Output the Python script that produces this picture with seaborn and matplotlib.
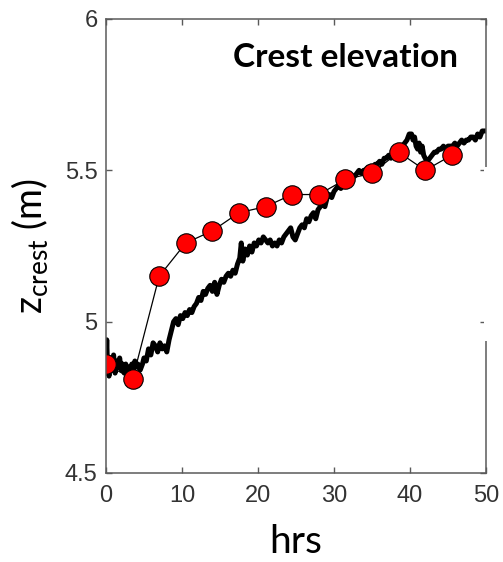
import numpy as np
import pandas as pd
import matplotlib
matplotlib.use("Agg")
import matplotlib.pyplot as plt
import seaborn as sns
from matplotlib.patches import Rectangle

# Modelled crest elevation (noisy black trace)
model_hrs = [0.0, 0.1, 0.2, 0.4, 0.6, 0.8, 1.0, 1.2, 1.4, 1.6, 1.8, 2.0, 2.2, 2.4, 2.6, 2.8,
             3.0, 3.2, 3.4, 3.6, 3.8, 4.0, 4.2, 4.5, 4.8, 5.0, 5.3, 5.6, 5.9, 6.2, 6.5, 6.8,
             7.1, 7.4, 7.7, 8.0, 8.3, 8.6, 8.9, 9.2, 9.5, 9.8, 10.1, 10.4, 10.7, 11.0, 11.3,
             11.6, 11.9, 12.2, 12.5, 12.8, 13.1, 13.4, 13.7, 14.0, 14.3, 14.6, 14.9, 15.2,
             15.5, 15.8, 16.1, 16.4, 16.7, 17.0, 17.3, 17.6, 17.8, 18.0, 18.3, 18.6, 18.9,
             19.2, 19.5, 19.8, 20.1, 20.4, 20.7, 21.0, 21.3, 21.6, 21.9, 22.2, 22.5, 22.8,
             23.1, 23.4, 23.7, 24.0, 24.3, 24.6, 24.9, 25.2, 25.5, 25.8, 26.1, 26.4, 26.7,
             27.0, 27.3, 27.6, 27.9, 28.2, 28.5, 28.8, 29.1, 29.4, 29.7, 30.0, 30.3, 30.6,
             30.9, 31.2, 31.5, 31.8, 32.1, 32.4, 32.7, 33.0, 33.3, 33.6, 33.9, 34.2, 34.5,
             34.8, 35.1, 35.4, 35.7, 36.0, 36.3, 36.6, 36.9, 37.2, 37.5, 37.8, 38.1, 38.4,
             38.7, 39.0, 39.3, 39.6, 39.9, 40.2, 40.4, 40.6, 40.8, 41.0, 41.2, 41.4, 41.6,
             41.8, 42.0, 42.3, 42.6, 42.9, 43.2, 43.5, 43.8, 44.1, 44.4, 44.7, 45.0, 45.3,
             45.6, 45.9, 46.2, 46.5, 46.8, 47.1, 47.4, 47.7, 48.0, 48.3, 48.6, 48.9, 49.2,
             49.5, 49.8, 50.0]
model_z = [4.86, 4.94, 4.85, 4.82, 4.88, 4.84, 4.89, 4.83, 4.87, 4.85, 4.88, 4.84, 4.86, 4.83,
           4.86, 4.84, 4.85, 4.83, 4.86, 4.84, 4.87, 4.85, 4.86, 4.84, 4.86, 4.88, 4.87, 4.91,
           4.89, 4.93, 4.92, 4.90, 4.93, 4.91, 4.92, 4.90, 4.94, 4.97, 5.00, 5.01, 4.99, 5.02,
           5.01, 5.03, 5.02, 5.04, 5.03, 5.05, 5.06, 5.08, 5.07, 5.10, 5.09, 5.11, 5.12, 5.10,
           5.13, 5.09, 5.12, 5.14, 5.13, 5.15, 5.16, 5.15, 5.17, 5.16, 5.19, 5.21, 5.26, 5.20,
           5.24, 5.22, 5.25, 5.23, 5.26, 5.25, 5.27, 5.26, 5.28, 5.27, 5.26, 5.27, 5.25, 5.26,
           5.25, 5.27, 5.26, 5.28, 5.29, 5.30, 5.31, 5.28, 5.27, 5.29, 5.31, 5.32, 5.31, 5.34,
           5.33, 5.35, 5.36, 5.34, 5.37, 5.38, 5.39, 5.38, 5.41, 5.42, 5.41, 5.43, 5.44, 5.45,
           5.44, 5.46, 5.46, 5.47, 5.46, 5.48, 5.48, 5.49, 5.50, 5.49, 5.50, 5.50, 5.51, 5.51,
           5.50, 5.52, 5.52, 5.53, 5.52, 5.54, 5.54, 5.55, 5.54, 5.56, 5.57, 5.57, 5.58, 5.58,
           5.59, 5.60, 5.62, 5.62, 5.60, 5.61, 5.58, 5.57, 5.59, 5.56, 5.58, 5.55, 5.54, 5.53,
           5.54, 5.55, 5.56, 5.56, 5.57, 5.57, 5.58, 5.57, 5.58, 5.58, 5.58, 5.59, 5.58, 5.59,
           5.60, 5.59, 5.60, 5.60, 5.61, 5.61, 5.60, 5.62, 5.61, 5.63, 5.63, 5.63]

# Observed crest elevation (red circles)
obs_hrs = [0.0, 3.5, 7.0, 10.5, 14.0, 17.5, 21.0, 24.5, 28.0, 31.5, 35.0, 38.5, 42.0, 45.5]
obs_z = [4.86, 4.81, 5.15, 5.26, 5.30, 5.36, 5.38, 5.42, 5.42, 5.47, 5.49, 5.56, 5.50, 5.55]

x_ticks = [0, 10, 20, 30, 40, 50]
y_ticks = [4.5, 5, 5.5, 6]
y_ticklabels = ["4.5", "5", "5.5", "6"]

df_model = pd.DataFrame({"hrs": model_hrs, "z": model_z})
df_obs = pd.DataFrame({"hrs": obs_hrs, "z": obs_z})

sns.set_theme(style="white")
plt.rcParams["font.family"] = ["Liberation Sans", "DejaVu Sans"]
plt.rcParams["mathtext.fontset"] = "custom"
plt.rcParams["mathtext.rm"] = "Lato"

fig = plt.figure(figsize=(5.03, 5.62), dpi=100)
ax = fig.add_axes([0.2107, 0.1584, 0.7555, 0.8078])

sns.lineplot(data=df_model, x="hrs", y="z", ax=ax, color="black", linewidth=3.6,
             sort=False, estimator=None)
sns.lineplot(data=df_obs, x="hrs", y="z", ax=ax, color="black", linewidth=0.9,
             marker="o", markersize=14, markerfacecolor="#ff0000",
             markeredgecolor="black", markeredgewidth=0.8, sort=False, estimator=None)

ax.set_xlim(0, 50)
ax.set_ylim(4.5, 6)
ax.set_xticks(x_ticks)
ax.set_yticks(y_ticks)
ax.set_yticklabels(y_ticklabels)

spine_col = "#5a5a5a"
for s in ax.spines.values():
    s.set_visible(True)
    s.set_color(spine_col)
    s.set_linewidth(1.1)
ax.tick_params(axis="both", direction="in", length=4, width=1.0, color=spine_col,
               labelsize=17, labelcolor="#333333", top=True, right=True, bottom=True, left=True)
ax.tick_params(axis="x", pad=9)
ax.tick_params(axis="y", pad=6)

ax.set_xlabel("hrs", fontsize=28, family=["Lato", "DejaVu Sans"], color="black", labelpad=12)
ax.set_ylabel(r"z$_{\mathrm{crest}}$ (m)", fontsize=27, family=["Lato", "DejaVu Sans"],
              color="black", labelpad=10)

ax.text(0.927, 0.916, "Crest elevation", transform=ax.transAxes, ha="right", va="center",
        fontsize=24, fontweight="bold", family=["Lato", "DejaVu Sans"], color="black")

# white strip hiding part of the right frame, as in the source figure
fig.patches.append(Rectangle((483.8 / 503, 1 - 341 / 562), 7 / 503, 174 / 562,
                             transform=fig.transFigure, facecolor="white",
                             edgecolor="none", zorder=10))

fig.savefig("out.png", dpi=100)
